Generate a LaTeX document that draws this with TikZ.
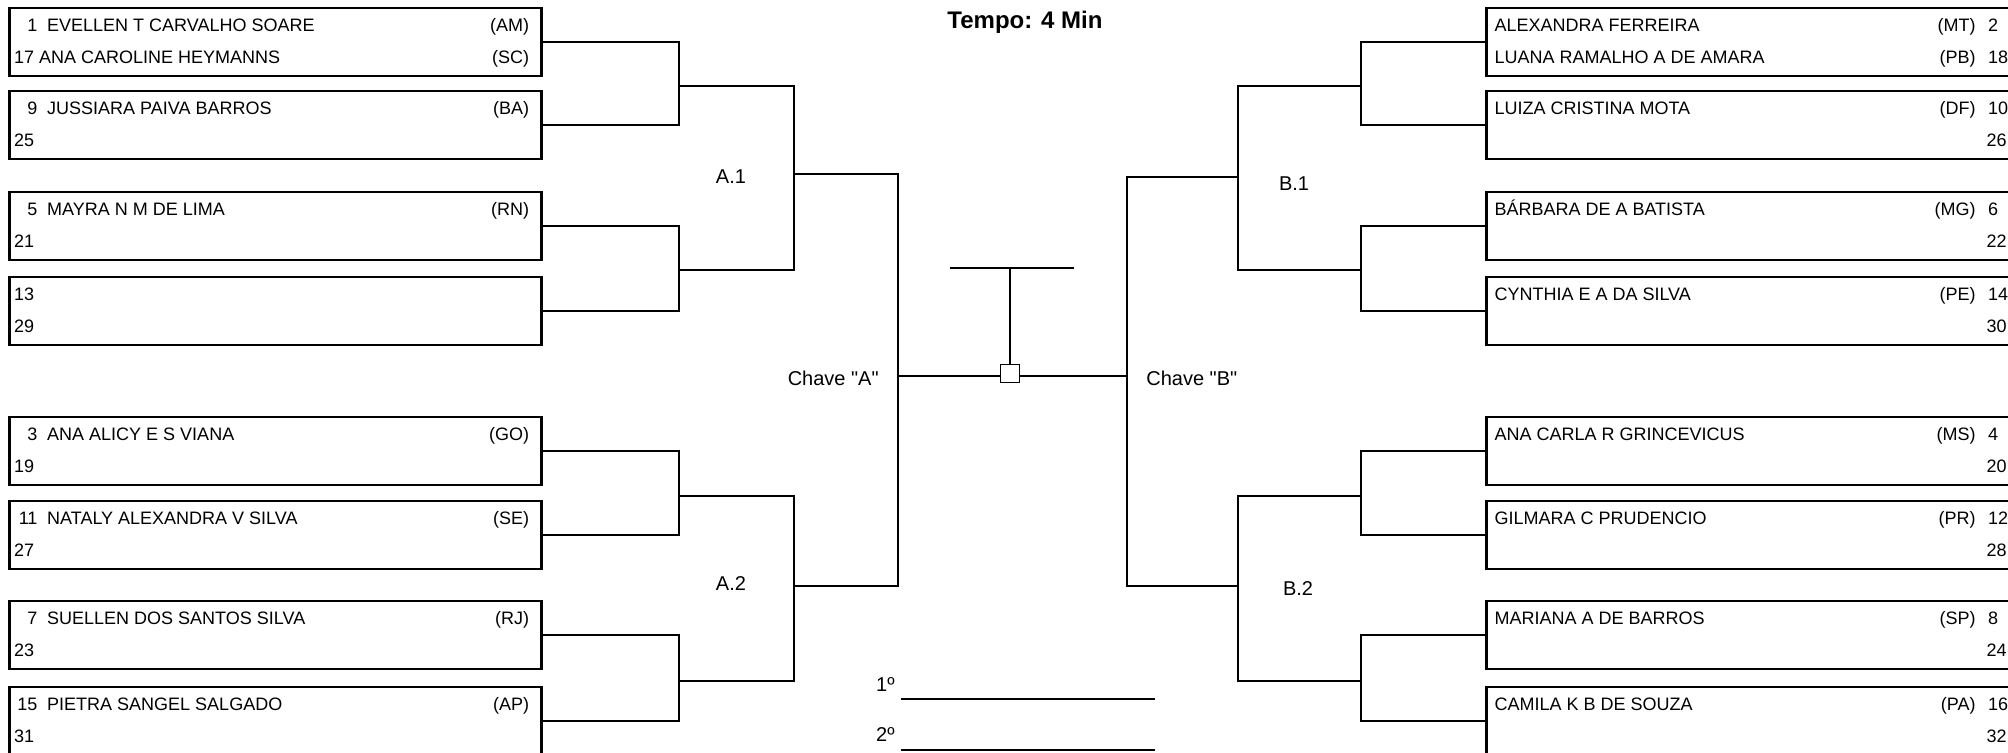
\documentclass[tikz,border=0pt]{standalone}
\usepackage{fontspec}
\setmainfont{Liberation Sans}[Ligatures=TeXOff]
\begin{document}
\begin{tikzpicture}[x=0.5pt,y=-0.5pt,line width=1.35pt,
    entry/.style={draw,line width=1.35pt,minimum width=266pt,minimum height=34pt,inner sep=0pt},
    player/.style={font=\fontsize{9}{10}\selectfont,inner sep=0pt},
    lbl/.style={font=\fontsize{10}{12}\selectfont,inner sep=0pt}]
    \useasboundingbox (0,0) rectangle (2008,753);
    \clip (0,0) rectangle (2008,753);

    % Entry boxes, left and right
    \foreach \i/\y in {1/42,2/125,3/226,4/311,5/451,6/535,7/635,8/721} {
        \node[entry] (a\i) at (275.2,\y) {};
        \node[entry] (b\i) at (1752.5,\y) {};
    }

    % Left names
    \foreach \i/\n/\who/\uf in {1/1/EVELLEN T CARVALHO SOARE/AM,2/9/JUSSIARA PAIVA BARROS/BA,
        3/5/MAYRA N M DE LIMA/RN,5/3/ANA ALICY E S VIANA/GO,6/11/NATALY ALEXANDRA V SILVA/SE,
        7/7/SUELLEN DOS SANTOS SILVA/RJ,8/15/PIETRA SANGEL SALGADO/AP} {
        \node[player,anchor=base east] (an\i) at ([shift={(31,25)}]a\i.north west) {\n};
        \node[player,anchor=base west] (at\i) at ([shift={(38,25)}]a\i.north west) {\who};
        \node[player,anchor=base east] (au\i) at ([shift={(-12,25)}]a\i.north east) {(\uf)};
    }
    \node[player,anchor=base west] (an4) at ([shift={(5,25)}]a4.north west) {13};
    \node[player,anchor=base west] (am1) at ([shift={(5,57)}]a1.north west) {17 ANA CAROLINE HEYMANNS};
    \node[player,anchor=base east] (aw1) at ([shift={(-12,57)}]a1.north east) {(SC)};
    \foreach \i/\n in {2/25,3/21,4/29,5/19,6/27,7/23,8/31}
        \node[player,anchor=base west] (am\i) at ([shift={(5,57)}]a\i.north west) {\n};

    % Right names
    \foreach \i/\who/\uf/\n in {1/ALEXANDRA FERREIRA/MT/2,2/LUIZA CRISTINA MOTA/DF/10,
        3/BÁRBARA DE A BATISTA/MG/6,4/CYNTHIA E A DA SILVA/PE/14,5/ANA CARLA R GRINCEVICUS/MS/4,
        6/GILMARA C PRUDENCIO/PR/12,7/MARIANA A DE BARROS/SP/8,8/CAMILA K B DE SOUZA/PA/16} {
        \node[player,anchor=base west] (bt\i) at ([shift={(8,25)}]b\i.north west) {\who};
        \node[player,anchor=base east] (bu\i) at ([shift={(-43,25)}]b\i.north east) {(\uf)};
        \node[player,anchor=base west] (bn\i) at ([shift={(-33,25)}]b\i.north east) {\n};
    }
    \node[player,anchor=base west] (bm1) at ([shift={(8,57)}]b1.north west) {LUANA RAMALHO A DE AMARA};
    \node[player,anchor=base east] (bw1) at ([shift={(-43,57)}]b1.north east) {(PB)};
    \node[player,anchor=base west] (bv1) at ([shift={(-33,57)}]b1.north east) {18};
    \foreach \i/\n in {2/26,3/22,4/30,5/20,6/28,7/24,8/32}
        \node[player,anchor=base east] (bm\i) at ([shift={(-12,57)}]b\i.north east) {\n};

    % Bracket joints
    \coordinate (pa1) at (679,86);   \coordinate (pa2) at (679,270);
    \coordinate (pa3) at (679,496);  \coordinate (pa4) at (679,681);
    \coordinate (qa1) at (794,174);  \coordinate (qa2) at (794,586);
    \coordinate (ra) at (898,376);
    \coordinate (pb1) at (1361,86);  \coordinate (pb2) at (1361,270);
    \coordinate (pb3) at (1361,496); \coordinate (pb4) at (1361,681);
    \coordinate (qb1) at (1238,177); \coordinate (qb2) at (1238,586);
    \coordinate (rb) at (1127,376);

    % Left brackets
    \draw (a1.east) -| (pa1) |- (a2.east);
    \draw (a3.east) -| (pa2) |- (a4.east);
    \draw (a5.east) -| (pa3) |- (a6.east);
    \draw (a7.east) -| (pa4) |- (a8.east);
    \draw (pa1) -| (qa1) |- (pa2);
    \draw (pa3) -| (qa2) |- (pa4);
    \draw (qa1) -| (ra) |- (qa2);

    % Right brackets
    \draw (b1.west) -| (pb1) |- (b2.west);
    \draw (b3.west) -| (pb2) |- (b4.west);
    \draw (b5.west) -| (pb3) |- (b6.west);
    \draw (b7.west) -| (pb4) |- (b8.west);
    \draw (pb1) -| (qb1) |- (pb2);
    \draw (pb3) -| (qb2) |- (pb4);
    \draw (qb1) -| (rb) |- (qb2);

    % Final
    \draw (ra) -- (rb);
    \node[draw,fill=white,line width=0.5pt,minimum width=9.5pt,minimum height=9pt,inner sep=0pt] (sq) at (1010,374) {};
    \coordinate (tl) at (950,268);
    \coordinate (tr) at (1074,268);
    \coordinate (tt) at (1010,268);
    \draw (tl) -- (tr);
    \draw (tt) -- (sq.north);

    % Labels
    \node[lbl] (la1) at (731,177) {A.1};
    \node[lbl] (la2) at (731,584) {A.2};
    \node[lbl] (lb1) at (1294,184) {B.1};
    \node[lbl] (lb2) at (1298,589) {B.2};
    \node[lbl,anchor=east] (ka) at (880,378) {Chave "A"};
    \node[lbl,anchor=west] (kb) at (1145,378) {Chave "B"};
    \node[font=\bfseries\fontsize{12}{14}\selectfont,inner sep=0pt,anchor=base] (tempo) at (1025,29) {Tempo: 4 Min};

    % Places
    \node[lbl,anchor=base east] (first) at (896,691) {1º};
    \node[lbl,anchor=base east] (second) at (896,741) {2º};
    \coordinate (f1) at (901,699);  \coordinate (f2) at (1155,699);
    \coordinate (s1) at (901,750);  \coordinate (s2) at (1155,750);
    \draw (f1) -- (f2);
    \draw (s1) -- (s2);
\end{tikzpicture}
\end{document}
